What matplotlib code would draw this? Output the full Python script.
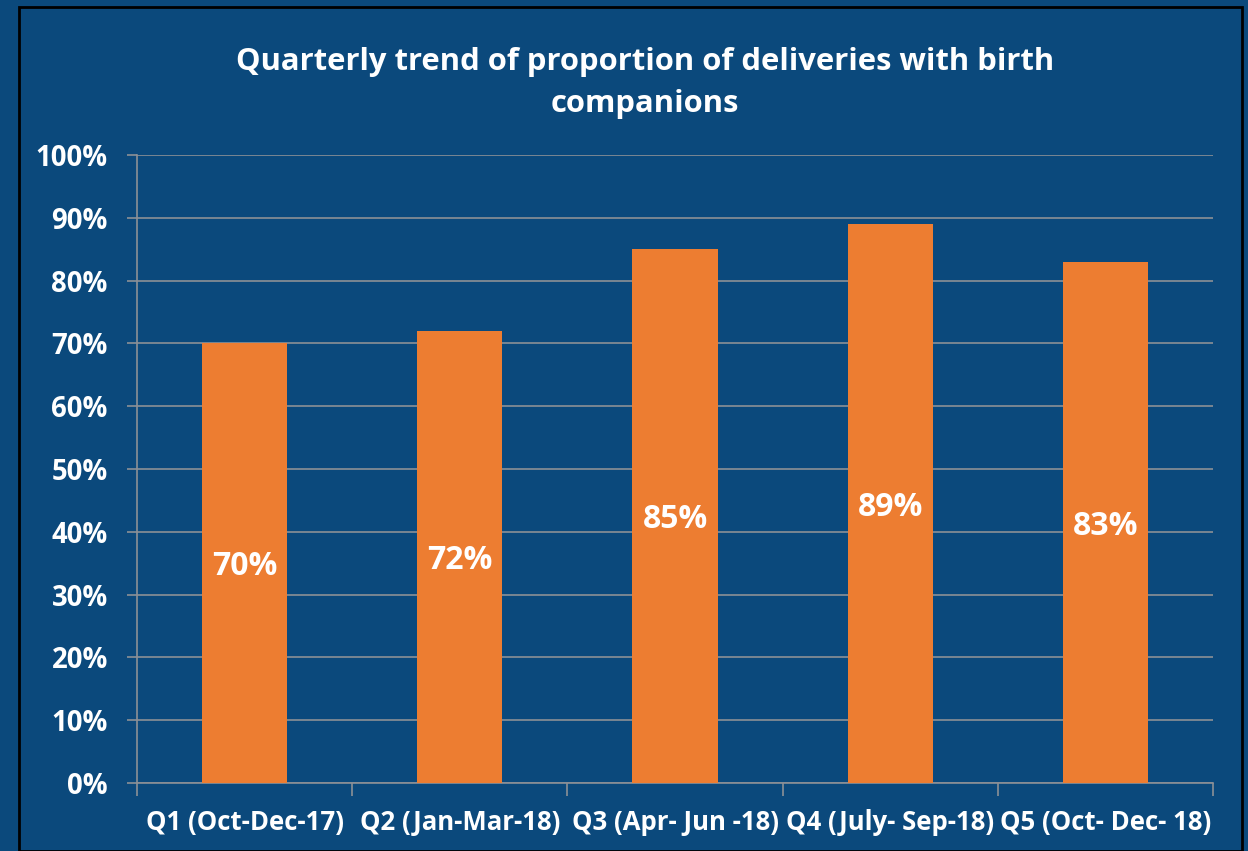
import matplotlib
matplotlib.use("Agg")
import matplotlib.pyplot as plt
from matplotlib.patches import Rectangle

categories = ["Q1 (Oct-Dec-17)", "Q2 (Jan-Mar-18)", "Q3 (Apr- Jun -18)",
              "Q4 (July- Sep-18)", "Q5 (Oct- Dec- 18)"]
values = [70, 72, 85, 89, 83]
yticks = [0, 10, 20, 30, 40, 50, 60, 70, 80, 90, 100]
title = "Quarterly trend of proportion of deliveries with birth\ncompanions"

BG = "#0B497C"
ORANGE = "#ED7D31"
GRID = "#8C9096"
FONT = ["Open Sans", "DejaVu Sans"]

fig = plt.figure(figsize=(12.48, 8.51), dpi=100, facecolor=BG)
fig.patches.append(Rectangle((19/1248, 0), (1242-19)/1248, (851-7)/851,
                             transform=fig.transFigure, fill=False,
                             edgecolor="black", linewidth=2))

ax = fig.add_axes([137/1248, 68/851, (1213-137)/1248, (783-155)/851])
ax.set_facecolor("none")
x = range(len(categories))
bars = ax.bar(x, values, width=0.395, color=ORANGE, zorder=3)
for b, v in zip(bars, values):
    ax.text(b.get_x() + b.get_width()/2, v/2 - 0.6, f"{v}%", ha="center", va="center",
            color="white", fontsize=23, fontweight="bold", family=FONT, zorder=4)

ax.set_xlim(-0.5, len(categories) - 0.5)
ax.set_ylim(0, 100)
ax.set_yticks(yticks)
ax.set_yticklabels([f"{t}%" for t in yticks], family=FONT, fontweight="bold",
                   fontsize=19.8, color="white")
ax.yaxis.grid(True, color=GRID, linewidth=1.2, zorder=0)
ax.tick_params(axis="y", length=7, color=GRID, width=1.2, pad=14)
ax.set_xticks(list(x))
ax.set_xticklabels(categories, family=FONT, fontweight="bold", fontsize=18.5,
                   color="white")
ax.tick_params(axis="x", length=0, pad=19)
ax.set_xticks([i + 0.5 for i in range(-1, len(categories))], minor=True)
ax.tick_params(axis="x", which="minor", length=9, color=GRID, width=1.2)
for s in ["top", "right"]:
    ax.spines[s].set_visible(False)
for s in ["left", "bottom"]:
    ax.spines[s].set_color(GRID)
    ax.spines[s].set_linewidth(1.2)

fig.text(645/1248, 1 - 83/851, title, ha="center", va="center", color="white",
         fontsize=22.3, fontweight="bold", family=FONT, linespacing=1.55)

fig.savefig("out.png", dpi=100, facecolor=BG)
